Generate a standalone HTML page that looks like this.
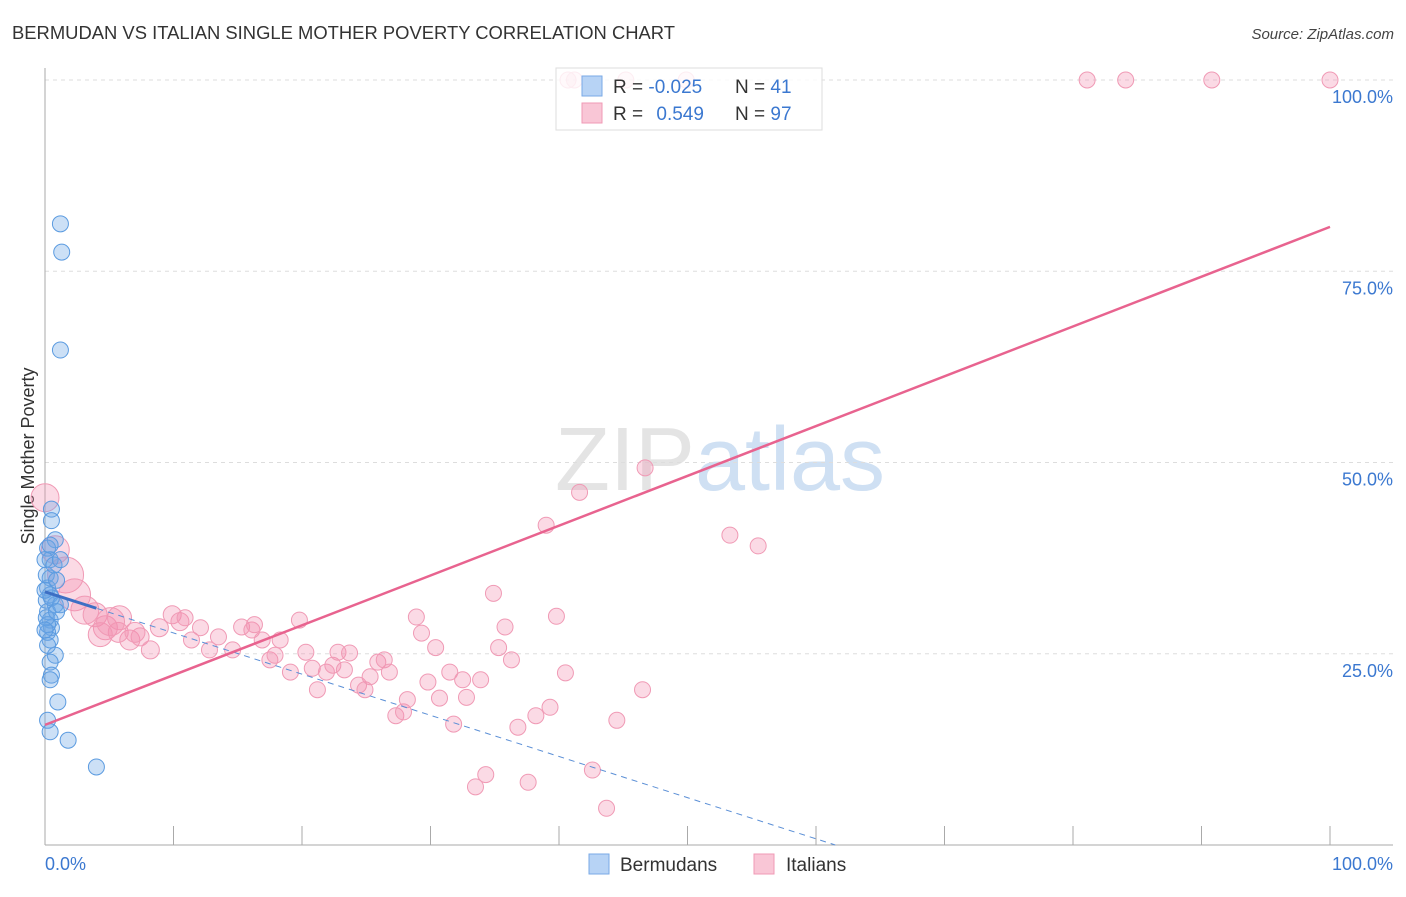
<!DOCTYPE html>
<html><head><meta charset="utf-8"><style>
body{margin:0;background:#fff;font-family:"Liberation Sans",sans-serif}
svg text{font-family:"Liberation Sans",sans-serif}
</style></head><body>
<svg id="chart" width="1406" height="892" xmlns="http://www.w3.org/2000/svg">
<text x="12" y="39" font-size="18" fill="#333" textLength="663" lengthAdjust="spacingAndGlyphs">BERMUDAN VS ITALIAN SINGLE MOTHER POVERTY CORRELATION CHART</text>
<text x="1394" y="39" font-size="15" fill="#444" text-anchor="end" font-style="italic">Source: ZipAtlas.com</text>
<text x="720" y="490" font-size="90" text-anchor="middle" fill="#e4e4e4" font-family="Liberation Serif">ZIP<tspan fill="#cfe0f3" font-family="Liberation Sans">atlas</tspan></text>
<text transform="translate(34,456) rotate(-90)" font-size="18" fill="#333" text-anchor="middle">Single Mother Poverty</text>
<g id="grid"></g><g id="pts"></g><g id="lines"></g>
<g>
<rect x="556" y="68" width="266" height="62" fill="rgba(255,255,255,0.82)" stroke="#ddd"/>
<rect x="582" y="76" width="20" height="20" fill="#b7d3f5" stroke="#7aaae6"/>
<rect x="582" y="103" width="20" height="20" fill="#f9c6d6" stroke="#f09ab5"/>
<text x="613" y="93" font-size="19" fill="#333">R = <tspan fill="#3b78d0">-0.025</tspan></text>
<text x="735" y="93" font-size="19" fill="#333">N = <tspan fill="#3b78d0">41</tspan></text>
<text x="613" y="120" font-size="19" fill="#333">R = <tspan fill="#3b78d0" dx="8">0.549</tspan></text>
<text x="735" y="120" font-size="19" fill="#333">N = <tspan fill="#3b78d0">97</tspan></text>
</g>
<g>
<rect x="589" y="854" width="20" height="20" fill="#b7d3f5" stroke="#7aaae6"/>
<text x="620" y="871" font-size="19" fill="#333">Bermudans</text>
<rect x="754" y="854" width="20" height="20" fill="#f9c6d6" stroke="#f09ab5"/>
<text x="786" y="871" font-size="19" fill="#333">Italians</text>
</g>
<text x="45" y="870" font-size="18" fill="#3b78d0">0.0%</text>
<text x="1393" y="870" font-size="18" fill="#3b78d0" text-anchor="end">100.0%</text>
</svg>
<script>
const yTicks=[25,50,75,100];
const yTickLabels=["25.0%","50.0%","75.0%","100.0%"];
const xTicks=[0,10,20,30,40,50,60,70,80,90,100];
const blueX=[1.2,1.3,1.2,0.5,0.5,0.8,0.2,0.4,0.4,0.2,0.4,0.8,0.2,0.4,0.5,0.2,0.4,0.8,0.4,0.5,0.4,1.0,0.2,0.4,1.8,4.0,0,0.1,0.1,0.2,1.2,0.5,0,0.1,0.2,0.9,0.7,0.4,0,1.2,0.9];
const blueY=[81.2,77.5,64.7,43.9,42.4,39.9,38.8,37.3,34.9,33.6,32.7,31.4,30.5,29.4,28.4,27.8,26.8,24.8,23.9,22.2,21.6,18.7,16.3,14.8,13.7,10.2,37.3,35.3,32.0,28.8,31.4,32.3,33.3,29.7,26.1,34.6,36.6,39.2,28.1,37.3,30.5];
const pinkX=[0,0.8,1.6,2.3,3.1,3.9,4.7,5.8,6.6,5.7,7.4,8.2,8.9,9.9,10.5,10.9,11.4,12.1,12.8,13.5,14.6,15.3,16.1,16.3,16.9,17.5,18.3,17.9,19.1,19.8,20.3,20.8,21.2,21.9,22.4,22.8,23.3,23.7,24.4,24.9,25.3,25.9,26.4,26.8,27.3,27.9,28.2,28.9,29.3,29.8,30.4,30.7,31.5,31.8,32.5,32.8,33.5,33.9,34.3,34.9,35.3,35.8,36.3,36.8,37.6,38.2,39.0,39.3,39.8,40.5,41.6,42.6,43.7,44.5,46.5,46.7,53.3,55.5,40.7,41.2,45.2,49.9,81.1,84.1,90.8,100,4.3,7.0,5.1];
const pinkY=[45.4,38.6,35.3,32.7,30.7,30.1,28.4,29.7,26.8,27.8,27.2,25.5,28.4,30.1,29.2,29.7,26.8,28.4,25.5,27.2,25.5,28.5,28.1,28.8,26.8,24.2,26.8,24.8,22.6,29.4,25.2,23.1,20.3,22.6,23.5,25.2,22.9,25.1,20.9,20.3,22.0,23.9,24.2,22.6,16.9,17.4,19.0,29.8,27.7,21.3,25.8,19.2,22.6,15.8,21.6,19.3,7.6,21.6,9.2,32.9,25.8,28.5,24.2,15.4,8.2,16.9,41.8,18.0,29.9,22.5,46.1,9.8,4.8,16.3,20.3,49.3,40.5,39.1,100,100,100,100,100,100,100,100,27.5,27.8,29.2];
const pinkR=[14,14,18,16,14,12,12,12,10,10,9,9,9,9,9,8,8,8,8,8,8,8,8,8,8,8,8,8,8,8,8,8,8,8,8,8,8,8,8,8,8,8,8,8,8,8,8,8,8,8,8,8,8,8,8,8,8,8,8,8,8,8,8,8,8,8,8,8,8,8,8,8,8,8,8,8,8,8,8,8,8,8,8,8,8,8,12,10,14];
const pinkTrend=[15.7,80.8];
const blueTrend=[33.1,0];
const NS="http://www.w3.org/2000/svg";
const X=v=>45+v*12.85, Y=v=>845-v*7.65;
function mk(tag,attrs,parent){const e=document.createElementNS(NS,tag);for(const k in attrs)e.setAttribute(k,attrs[k]);parent.appendChild(e);return e;}
const grid=document.getElementById('grid'),pts=document.getElementById('pts'),lines=document.getElementById('lines');
yTicks.forEach((t,i)=>{
 const g=mk('line',{x1:45,x2:1393,y1:Y(t),y2:Y(t),stroke:'#ddd','stroke-dasharray':'4,4'},grid);
 
 
 const l=mk('text',{x:1393,y:Y(t)+23,'font-size':18,fill:'#3b78d0','text-anchor':'end'},grid);l.textContent=yTickLabels[i];
 
 
});
const ax=mk('line',{x1:45,x2:1393,y1:845,y2:845,stroke:'#aaa'},grid);


const ay=mk('line',{x1:45,x2:45,y1:68,y2:845,stroke:'#aaa'},grid);


xTicks.forEach(t=>{const k=mk('line',{x1:X(t),x2:X(t),y1:826,y2:845,stroke:'#aaa'},grid);
 
 });
pinkX.forEach((v,i)=>{const c=mk('circle',{cx:X(v),cy:Y(pinkY[i]),r:pinkR[i],fill:'rgba(244,143,177,0.33)',stroke:'#f09ab5','stroke-width':1},pts);
 
 });
blueX.forEach((v,i)=>{const c=mk('circle',{cx:X(v),cy:Y(blueY[i]),r:8,fill:'rgba(110,165,230,0.35)',stroke:'#5b9be0','stroke-width':1},pts);
 
 });
const bxEnd=61.5;
const bd=mk('line',{x1:X(0),y1:Y(blueTrend[0]),x2:X(bxEnd),y2:Y(blueTrend[1]),stroke:'#5b8fd6','stroke-width':1,'stroke-dasharray':'6,5'},lines);


const slope=(blueTrend[1]-blueTrend[0])/bxEnd;
const bs=mk('line',{x1:X(0),y1:Y(blueTrend[0]),x2:X(4),y2:Y(blueTrend[0]+slope*4),stroke:'#3d6fc4','stroke-width':3},lines);


const pl=mk('line',{x1:X(0),y1:Y(pinkTrend[0]),x2:X(100),y2:Y(pinkTrend[1]),stroke:'#e8638f','stroke-width':2.5},lines);


</script>
</body></html>
